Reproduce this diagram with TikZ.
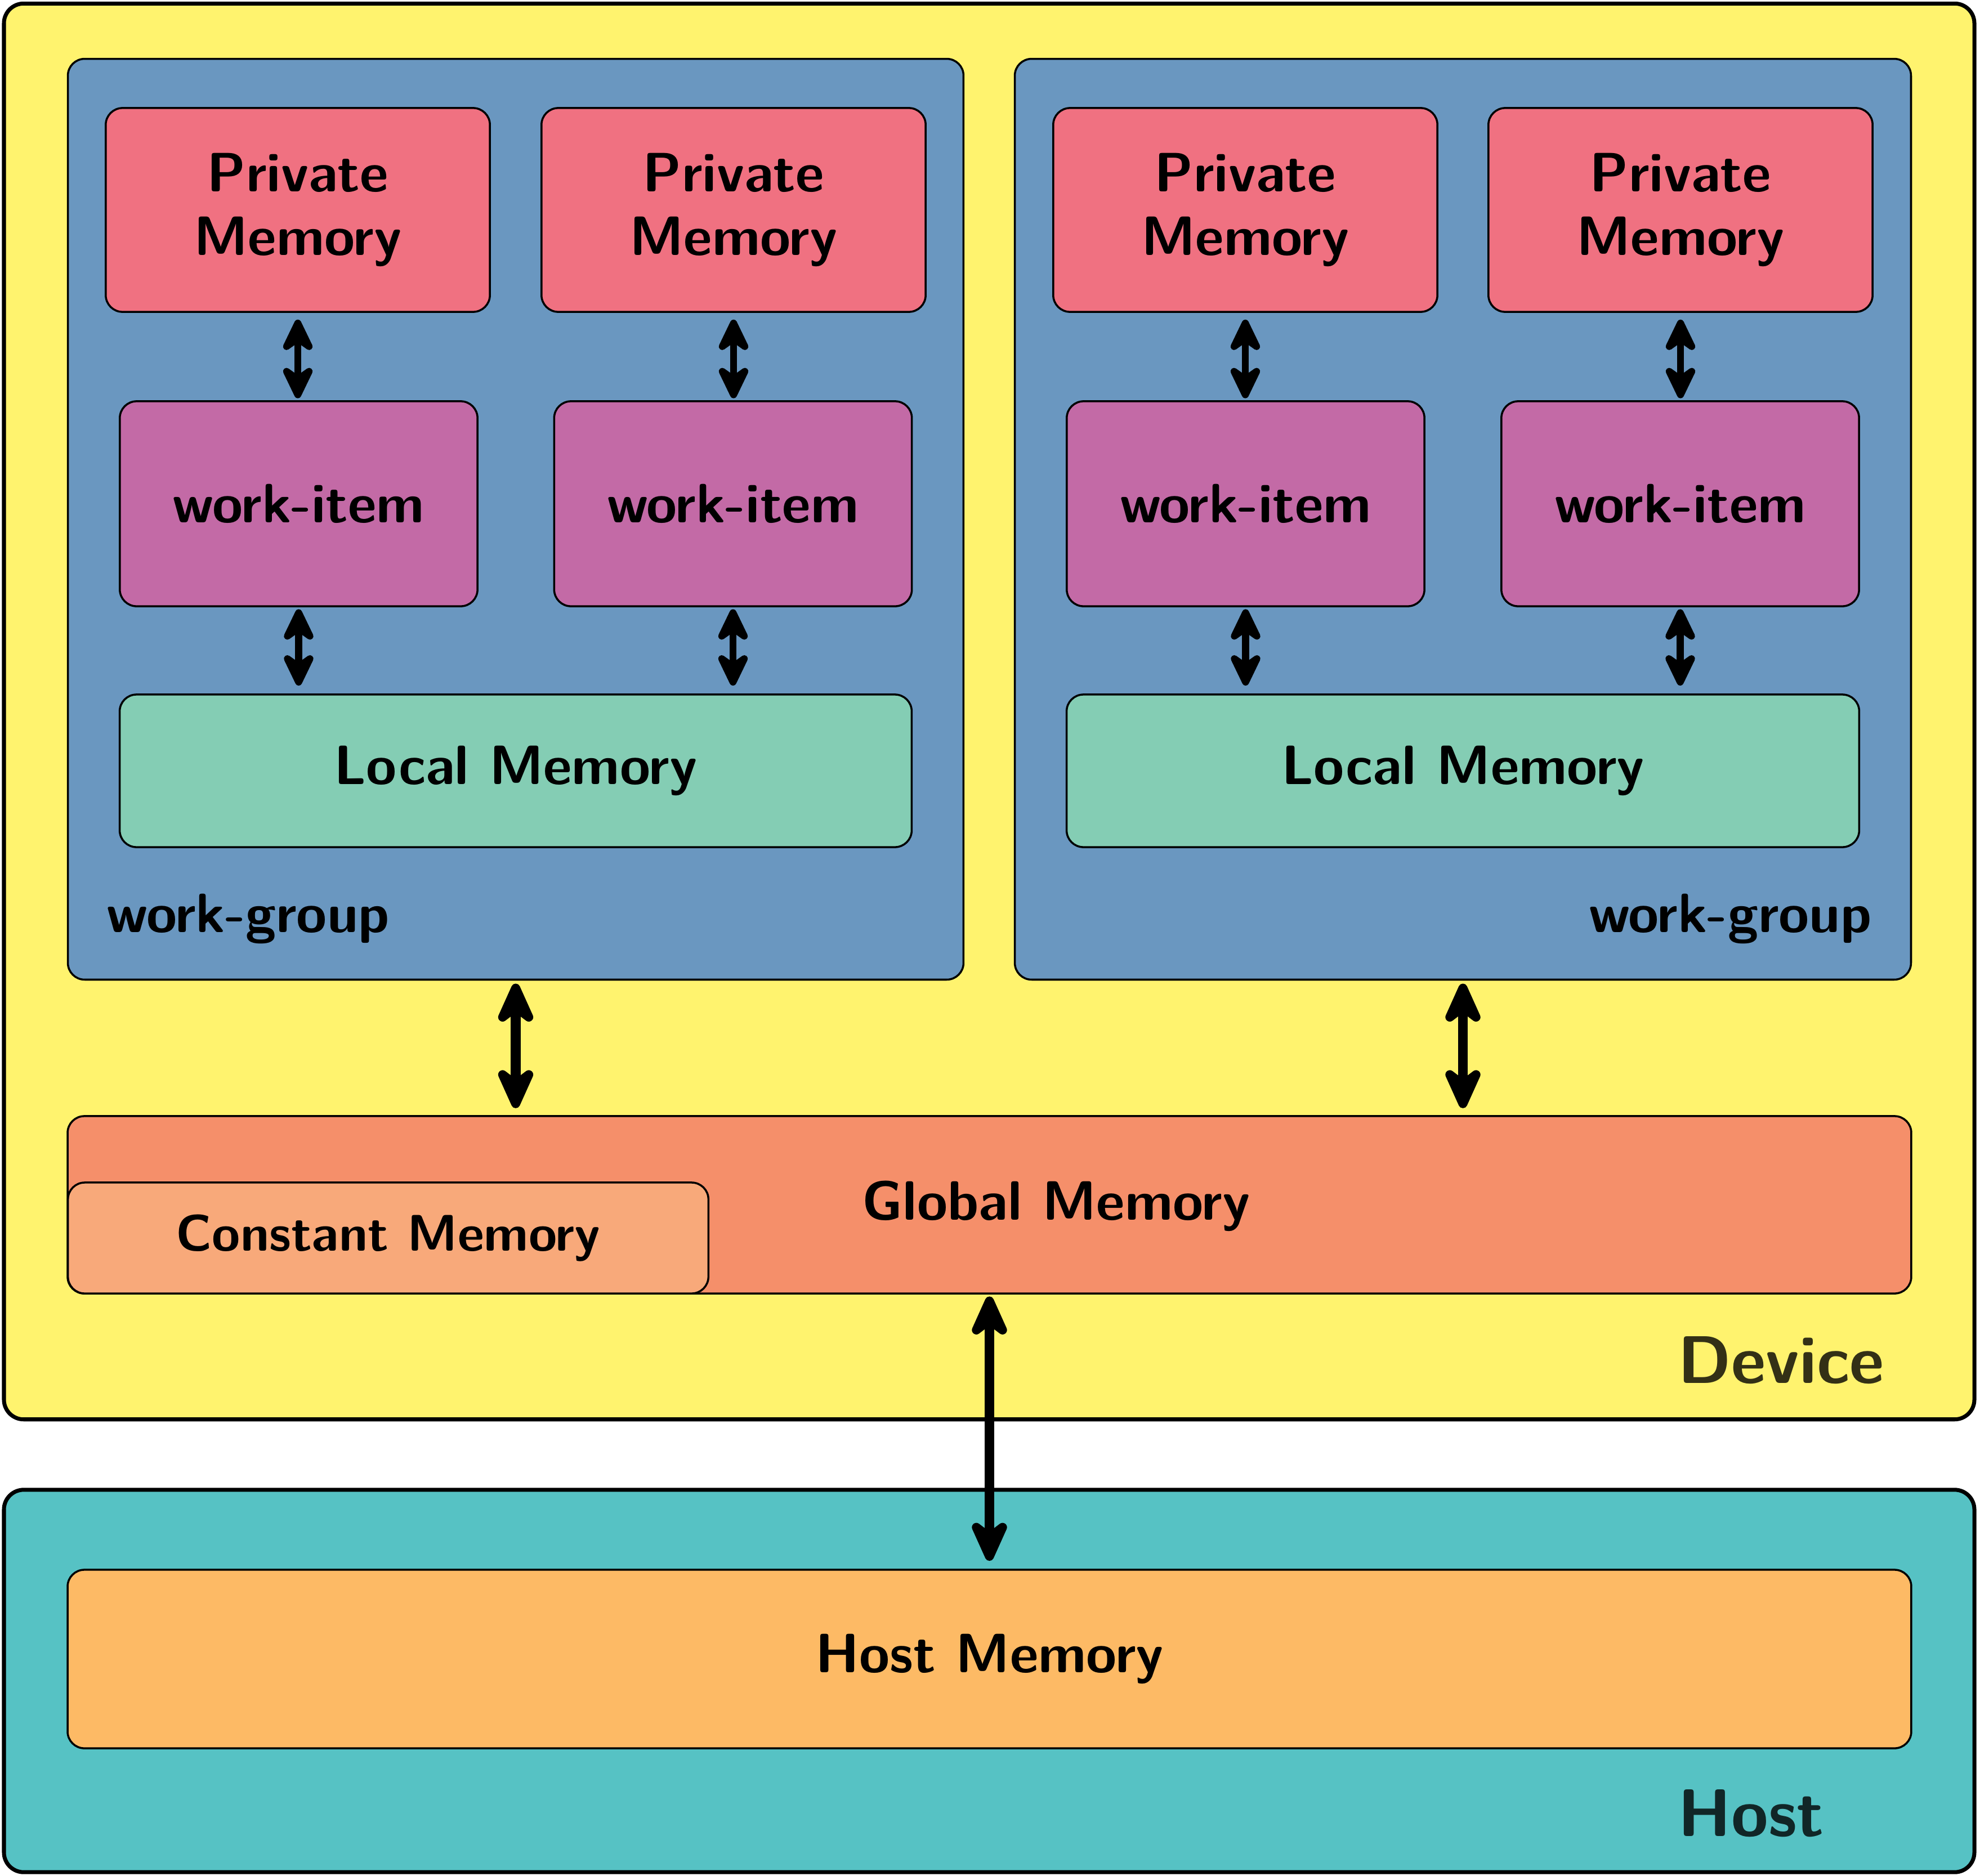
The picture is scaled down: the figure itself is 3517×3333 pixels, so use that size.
\documentclass[tikz,border=0pt]{standalone}
\usetikzlibrary{arrows.meta}
\definecolor{devY}{RGB}{255,243,110}
\definecolor{wgB}{RGB}{106,151,192}
\definecolor{privP}{RGB}{240,113,129}
\definecolor{wiP}{RGB}{195,106,166}
\definecolor{locG}{RGB}{132,205,180}
\definecolor{gloO}{RGB}{245,143,106}
\definecolor{conO}{RGB}{248,169,122}
\definecolor{hostC}{RGB}{86,194,196}
\definecolor{hmemO}{RGB}{253,186,101}
\newcommand\dgmfont{\fontsize{28}{32}\selectfont\sffamily\bfseries}
\newcommand\dgmsmallfont{\fontsize{26}{30}\selectfont\sffamily\bfseries}
\newcommand\dgmbigfont{\fontsize{34}{40}\selectfont\sffamily\bfseries}
\begin{document}
\begin{tikzpicture}[x=0.01cm,y=-0.01cm,
  box/.style={draw=black, line width=1pt, rounded corners=8.5pt, inner sep=0pt, align=center, font=\dgmfont},
  outerbox/.style={draw=black, line width=2pt, rounded corners=10pt, inner sep=0pt},
  lbl/.style={inner sep=0pt, font=\dgmfont},
  biglbl/.style={inner sep=0pt, font=\dgmbigfont, text opacity=0.8},
  bigarr/.style={line width=5pt, >={Stealth[length=27pt,width=24pt,inset=9pt,round]}, <->},
  smallarr/.style={line width=3.5pt, >={Stealth[length=21pt,width=20pt,inset=7pt,round]}, <->}]
\useasboundingbox (0,0) rectangle (3517,3333);

% outer containers
\node[outerbox, fill=devY, minimum width=34.98cm, minimum height=25.14cm] (dev) at (1757,1264) {};
\node[outerbox, fill=hostC, minimum width=34.98cm, minimum height=6.79cm] (host) at (1757,2986.5) {};

% work-groups
\node[box, fill=wgB, minimum width=15.90cm, minimum height=16.35cm] (wg1) at (916,922.5) {};
\node[box, fill=wgB, minimum width=15.91cm, minimum height=16.35cm] (wg2) at (2598.5,922.5) {};

% private memories
\node[box, fill=privP, minimum width=6.82cm, minimum height=3.62cm] (p1) at (529,373) {Private\\Memory};
\node[box, fill=privP, minimum width=6.82cm, minimum height=3.62cm] (p2) at (1303,373) {Private\\Memory};
\node[box, fill=privP, minimum width=6.82cm, minimum height=3.62cm] (p3) at (2212,373) {Private\\Memory};
\node[box, fill=privP, minimum width=6.82cm, minimum height=3.62cm] (p4) at (2985,373) {Private\\Memory};

% work-items
\node[box, fill=wiP, minimum width=6.35cm, minimum height=3.64cm] (w1) at (530.5,895) {work-item};
\node[box, fill=wiP, minimum width=6.35cm, minimum height=3.64cm] (w2) at (1302,895) {work-item};
\node[box, fill=wiP, minimum width=6.35cm, minimum height=3.64cm] (w3) at (2212.5,895) {work-item};
\node[box, fill=wiP, minimum width=6.35cm, minimum height=3.64cm] (w4) at (2984.5,895) {work-item};

% local memories
\node[box, fill=locG, minimum width=14.06cm, minimum height=2.71cm] (l1) at (916,1369.5) {Local Memory};
\node[box, fill=locG, minimum width=14.07cm, minimum height=2.71cm] (l2) at (2598.5,1369.5) {Local Memory};

% work-group labels
\node[lbl, anchor=base west] (wgl1) at (189,1656) {work-group};
\node[lbl, anchor=base east] (wgl2) at (3325,1656) {work-group};

% global and constant memory
\node[box, fill=gloO, minimum width=32.73cm, minimum height=3.15cm] (gm) at (1757.5,2140.5) {};
\node[lbl] (gmt) at (1876,2143) {Global Memory};
\node[box, fill=conO, minimum width=11.37cm, minimum height=1.97cm, font=\dgmsmallfont] (cm) at (689.5,2199.5) {Constant Memory};

% host memory
\node[box, fill=hmemO, minimum width=32.73cm, minimum height=3.17cm] (hm) at (1757.5,2947.5) {Host Memory};

% big labels
\node[biglbl, anchor=base west] (devl) at (2980,2457) {Device};
\node[biglbl, anchor=base west] (hostl) at (2980,3262) {Host};

% arrows
\draw[smallarr, shorten <=3.4pt, shorten >=1pt] (p1.south) -- (p1.south |- w1.north);
\draw[smallarr, shorten <=3.4pt, shorten >=1pt] (p2.south) -- (p2.south |- w2.north);
\draw[smallarr, shorten <=3.4pt, shorten >=1pt] (p3.south) -- (p3.south |- w3.north);
\draw[smallarr, shorten <=3.4pt, shorten >=1pt] (p4.south) -- (p4.south |- w4.north);
\draw[smallarr, shorten <=1pt, shorten >=4pt] (w1.south) -- (w1.south |- l1.north);
\draw[smallarr, shorten <=1pt, shorten >=4pt] (w2.south) -- (w2.south |- l1.north);
\draw[smallarr, shorten <=1pt, shorten >=4pt] (w3.south) -- (w3.south |- l2.north);
\draw[smallarr, shorten <=1pt, shorten >=4pt] (w4.south) -- (w4.south |- l2.north);
\draw[bigarr, shorten <=1.5pt, shorten >=3.5pt] (wg1.south) -- (wg1.south |- gm.north);
\draw[bigarr, shorten <=1.5pt, shorten >=3.5pt] (wg2.south) -- (wg2.south |- gm.north);
\draw[bigarr, shorten <=1pt, shorten >=4pt] (gm.south) -- (hm.north);
\end{tikzpicture}
\end{document}
